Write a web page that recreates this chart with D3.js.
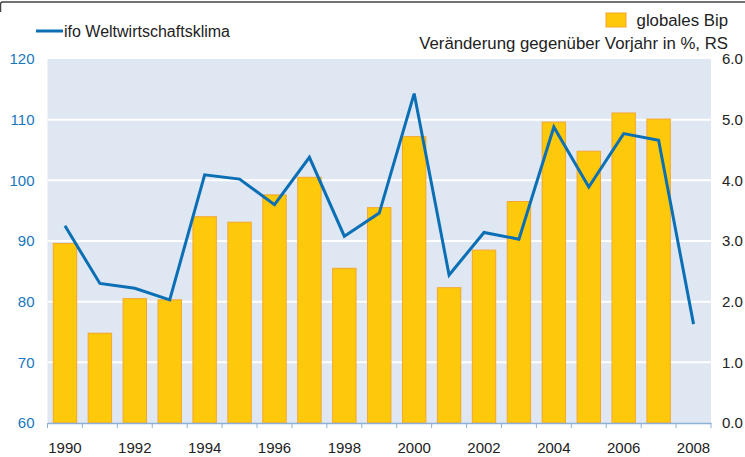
<!DOCTYPE html>
<meta charset="utf-8">
<style>
  body { margin: 0; background: #fff; }
  text { font-family: "Liberation Sans", Arial, sans-serif; }
</style>
<body>
<script src="https://d3js.org/d3.v7.min.js"></script>
<script>

// Data: years, global GDP growth (right axis, %) and ifo world economic climate (left axis)
var years = [1990, 1991, 1992, 1993, 1994, 1995, 1996, 1997, 1998, 1999,
             2000, 2001, 2002, 2003, 2004, 2005, 2006, 2007, 2008];
var bip = [2.96, 1.48, 2.05, 2.03, 3.40, 3.31, 3.76, 4.05, 2.55, 3.55,
           4.72, 2.23, 2.85, 3.65, 4.96, 4.48, 5.11, 5.01, null];
var ifo = [92.5, 83.0, 82.2, 80.3, 100.9, 100.2, 96.0, 103.8, 90.8, 94.6,
           114.3, 84.4, 91.4, 90.3, 108.8, 98.9, 107.7, 106.6, 76.3];
var leftTicks = [60, 70, 80, 90, 100, 110, 120];
var rightTicks = [0, 1, 2, 3, 4, 5, 6];

var W = 745, H = 457;
var margin = {top: 59, right: 34, bottom: 34, left: 47.5},
    width = W - margin.left - margin.right,
    height = H - margin.top - margin.bottom;

var svg = d3.select("body").append("svg")
    .attr("width", W)
    .attr("height", H);

// frame line at the top
svg.append("path")
    .attr("d", "M0.5,12 L0.5,4 Q0.5,2 3,2 L745,2")
    .attr("fill", "none")
    .attr("stroke", "#444")
    .attr("stroke-width", 1.5);

var g = svg.append("g")
    .attr("transform", "translate(" + margin.left + "," + margin.top + ")");

var x = d3.scaleBand()
    .domain(years)
    .range([0, width])
    .paddingInner(0.33)
    .paddingOuter(0.165);

var xBand = d3.scaleBand().domain(years).range([0, width]);

var yL = d3.scaleLinear().domain([60, 120]).range([height, 0]);
var yR = d3.scaleLinear().domain([0, 6]).range([height, 0]);

// plot background
g.append("rect")
    .attr("x", 0).attr("y", 0)
    .attr("width", width).attr("height", height)
    .attr("fill", "#dfe7f3");

// white gridlines
g.selectAll(".grid")
    .data(leftTicks.slice(1, -1))
  .enter().append("line")
    .attr("x1", 0).attr("x2", width)
    .attr("y1", function(d) { return yL(d); })
    .attr("y2", function(d) { return yL(d); })
    .attr("stroke", "#fff")
    .attr("stroke-width", 2);

// bars
var data = years.map(function(y, i) { return {year: y, bip: bip[i], ifo: ifo[i]}; });

g.selectAll(".bar")
    .data(data.filter(function(d) { return d.bip != null; }))
  .enter().append("rect")
    .attr("class", "bar")
    .attr("x", function(d) { return x(d.year); })
    .attr("width", x.bandwidth())
    .attr("y", function(d) { return yR(d.bip); })
    .attr("height", function(d) { return height - yR(d.bip); })
    .attr("fill", "#ffc90b")
    .attr("stroke", "#f5a62a")
    .attr("stroke-width", 1);

// ifo line
var line = d3.line()
    .x(function(d) { return xBand(d.year) + xBand.bandwidth() / 2; })
    .y(function(d) { return yL(d.ifo); });

g.append("path")
    .datum(data)
    .attr("d", line)
    .attr("fill", "none")
    .attr("stroke", "#0a6fb4")
    .attr("stroke-width", 3)
    .attr("stroke-linejoin", "miter");

// x axis
var xAxis = g.append("g")
    .attr("transform", "translate(0," + height + ")")
    .call(d3.axisBottom(xBand).tickSize(0).tickFormat(""));
xAxis.select(".domain").attr("stroke", "#8fb0d6").attr("stroke-width", 1.5);
xAxis.selectAll(".tick").remove();

// tick marks at band boundaries
var bounds = years.map(function(y) { return xBand(y); }).concat([width]);
g.selectAll(".xtick")
    .data(bounds)
  .enter().append("line")
    .attr("x1", function(d) { return d; })
    .attr("x2", function(d) { return d; })
    .attr("y1", height)
    .attr("y2", height + 5)
    .attr("stroke", "#8fb0d6")
    .attr("stroke-width", 1);

// year labels every 2 years
g.selectAll(".xlabel")
    .data(years.filter(function(y) { return y % 2 === 0; }))
  .enter().append("text")
    .attr("x", function(d) { return xBand(d) + xBand.bandwidth() / 2; })
    .attr("y", height + 30)
    .attr("text-anchor", "middle")
    .style("font-size", "15px")
    .attr("fill", "#222")
    .text(function(d) { return d; });

// left axis labels
g.selectAll(".ylabelL")
    .data(leftTicks)
  .enter().append("text")
    .attr("x", -13)
    .attr("y", function(d) { return yL(d); })
    .attr("dy", "0.36em")
    .attr("text-anchor", "end")
    .style("font-size", "15px")
    .attr("fill", "#1a76bd")
    .text(function(d) { return d; });

// right axis labels
g.selectAll(".ylabelR")
    .data(rightTicks)
  .enter().append("text")
    .attr("x", width + 11)
    .attr("y", function(d) { return yR(d); })
    .attr("dy", "0.36em")
    .attr("text-anchor", "start")
    .style("font-size", "15px")
    .attr("fill", "#222")
    .text(function(d) { return d3.format(".1f")(d); });

// legend: line series
svg.append("line")
    .attr("x1", 36).attr("x2", 63)
    .attr("y1", 31).attr("y2", 31)
    .attr("stroke", "#0a6fb4")
    .attr("stroke-width", 3);
svg.append("text")
    .attr("x", 64).attr("y", 37)
    .style("font-size", "16px")
    .attr("fill", "#222")
    .text("ifo Weltwirtschaftsklima");

// legend: bars
svg.append("rect")
    .attr("x", 606).attr("y", 13)
    .attr("width", 20).attr("height", 14)
    .attr("fill", "#ffc90b")
    .attr("stroke", "#f5a62a");
svg.append("text")
    .attr("x", 728).attr("y", 26)
    .attr("text-anchor", "end")
    .style("font-size", "16.8px")
    .attr("fill", "#222")
    .text("globales Bip");
svg.append("text")
    .attr("x", 728).attr("y", 49)
    .attr("text-anchor", "end")
    .style("font-size", "16.8px")
    .attr("fill", "#222")
    .text("Veränderung gegenüber Vorjahr in %, RS");

</script>
</body>
